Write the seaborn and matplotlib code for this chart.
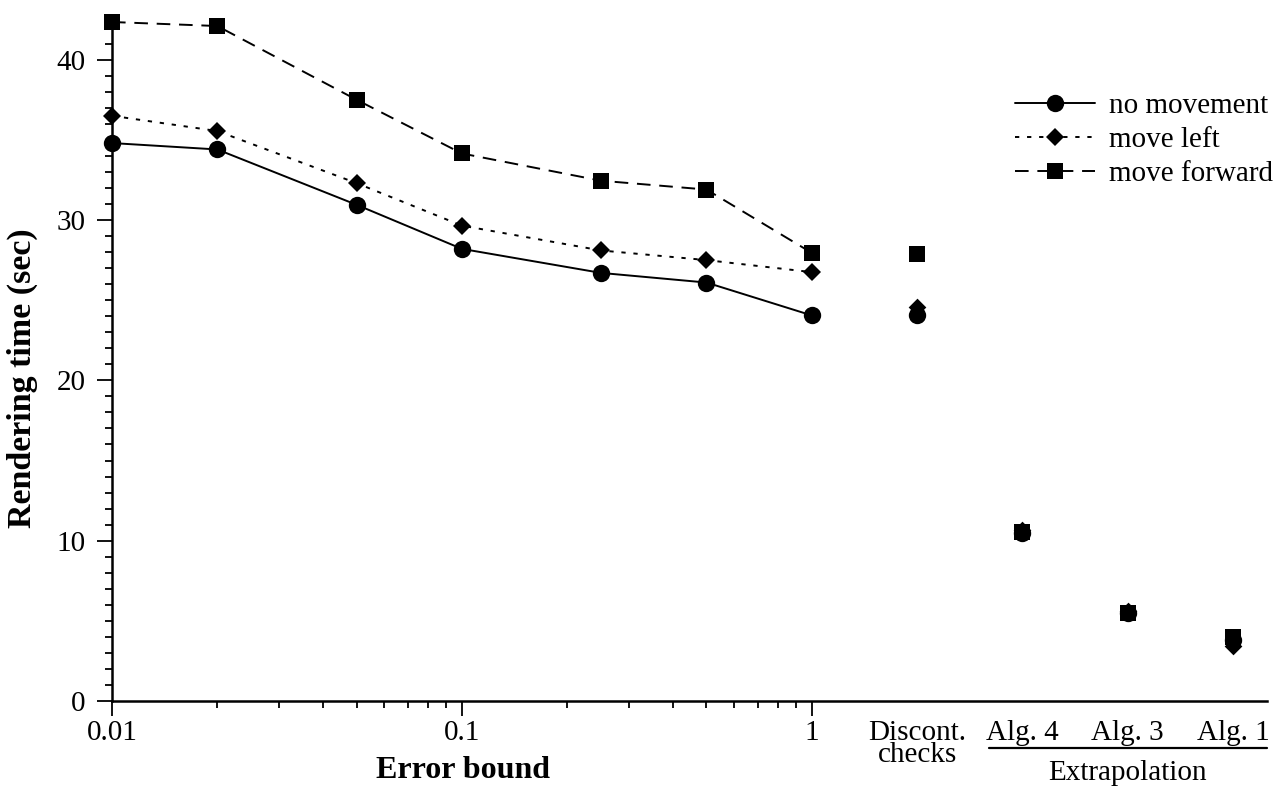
import numpy as np
import pandas as pd
import seaborn as sns
import matplotlib.pyplot as plt
from matplotlib.ticker import FixedLocator, NullFormatter

# error-bound sweep
error_bounds = [0.01, 0.02, 0.05, 0.1, 0.25, 0.5, 1]
no_movement = [34.8, 34.4, 30.95, 28.2, 26.7, 26.1, 24.05]
move_left = [36.5, 35.55, 32.3, 29.65, 28.1, 27.5, 26.75]
move_forward = [42.35, 42.1, 37.5, 34.15, 32.45, 31.9, 27.95]

# other methods (unconnected points)
methods = ["Discont.\nchecks", "Alg. 4", "Alg. 3", "Alg. 1"]
method_no_movement = [24.05, 10.5, 5.5, 3.8]
method_move_left = [24.6, 10.65, 5.6, 3.45]
method_move_forward = [27.85, 10.55, 5.5, 4.0]

y_ticks = [0, 10, 20, 30, 40]

sns.set_style('ticks')
plt.rcParams['font.family'] = ['Liberation Serif', 'DejaVu Serif']
plt.rcParams['font.size'] = 21
plt.rcParams['text.color'] = 'black'
plt.rcParams['axes.labelcolor'] = 'black'

# method columns sit at doubling steps past 1 on the log axis
method_x = [2.0 * 2 ** i for i in range(len(methods))]

series = [
    ('no movement', no_movement, method_no_movement, 'o', 12.5, '-'),
    ('move left', move_left, method_move_left, 'D', 9, (0, (2.2, 4.0))),
    ('move forward', move_forward, method_move_forward, 's', 11.5, (0, (7, 4.5))),
]

fig = plt.figure(figsize=(12.83, 7.91), dpi=100)
ax = fig.add_axes([112 / 1283, 1 - 701 / 791, 1155 / 1283, 683 / 791])

for label, vals, mvals, marker, ms, ls in series:
    df = pd.DataFrame({'error_bound': error_bounds, 'time': vals})
    sns.lineplot(data=df, x='error_bound', y='time', ax=ax, color='black',
                 marker=marker, markersize=ms, markeredgewidth=0,
                 linestyle=ls, linewidth=1.4, label=label, clip_on=False)
    mdf = pd.DataFrame({'x': method_x, 'time': mvals})
    sns.scatterplot(data=mdf, x='x', y='time', ax=ax, color='black',
                    marker=marker, s=ms ** 2, linewidth=0, legend=False,
                    clip_on=False)

ax.set_xscale('log')
ax.set_xlim(0.01, 20)
ax.set_ylim(0, 42.6)

major = [0.01, 0.1, 1] + method_x
ax.xaxis.set_major_locator(FixedLocator(major))
ax.set_xticklabels(['0.01', '0.1', '1'] + methods)
minor = [k * 10.0 ** e for e in (-2, -1) for k in range(2, 10)]
ax.xaxis.set_minor_locator(FixedLocator(minor))
ax.xaxis.set_minor_formatter(NullFormatter())
for t in ax.xaxis.get_major_ticks()[3:]:
    t.tick1line.set_visible(False)
for lab in ax.get_xticklabels():
    lab.set_linespacing(0.78)

ax.set_yticks(y_ticks)
ax.yaxis.set_minor_locator(FixedLocator(np.arange(0, 43, 1)))

ax.tick_params(axis='both', which='major', direction='out', length=11,
               width=1.3, labelsize=21, colors='black')
ax.tick_params(axis='both', which='minor', direction='out', length=5,
               width=1.3, colors='black')
ax.tick_params(axis='x', which='major', pad=3)
ax.tick_params(axis='y', which='major', pad=8)

sns.despine(ax=ax)
for sp in ['left', 'bottom']:
    ax.spines[sp].set_linewidth(1.8)
    ax.spines[sp].set_color('black')

ax.set_xlabel('Error bound', fontsize=23, fontweight='bold', color='black')
ax.set_ylabel('Rendering time (sec)', fontsize=24.5, fontweight='bold',
              color='black')
ax.xaxis.set_label_coords(0.304, -0.080)
ax.yaxis.set_label_coords(-0.064, 0.473)

# bracket under the extrapolation methods
ax.plot([3.2, 20], [-0.069, -0.069], color='black', linewidth=1.6,
        transform=ax.get_xaxis_transform(), clip_on=False)
ax.text(method_x[2], -0.106, 'Extrapolation', ha='center', va='center',
        fontsize=21, color='black', transform=ax.get_xaxis_transform())

leg = ax.legend(loc='upper left', bbox_to_anchor=(0.782, 0.891),
                frameon=False, borderpad=0, borderaxespad=0,
                handlelength=2.75, handletextpad=0.45, labelspacing=0.27,
                fontsize=21)
for txt in leg.get_texts():
    txt.set_color('black')

fig.savefig('out.png', dpi=100)
